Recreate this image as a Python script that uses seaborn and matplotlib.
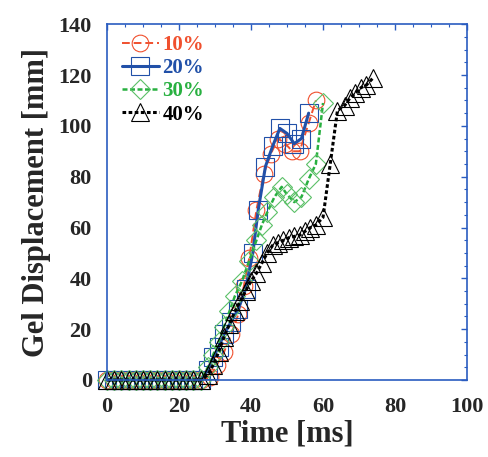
import numpy as np
import pandas as pd
import matplotlib
matplotlib.use("Agg")
import matplotlib.pyplot as plt
import seaborn as sns
from matplotlib.ticker import MultipleLocator

# ---- data ----
zero_t = [0, 2, 4, 6, 8, 10, 12, 14, 16, 18, 20, 22, 24, 26]

t10 = zero_t + [28.5, 30.5, 32.5, 34.5, 36.5, 38, 39.5, 41.5, 43.5, 45.5, 47.5, 49.5, 51.5, 53.5, 56, 58]
y10 = [0]*14 + [1, 6, 11, 18, 26, 37, 48, 67, 81, 89, 95, 93, 90, 90, 101, 110]

t20 = zero_t + [28, 29.5, 31, 32.5, 34.5, 36.5, 38.5, 40.5, 42, 44, 46, 48, 50, 52, 54, 56]
y20 = [0]*14 + [4, 9, 13, 18, 23, 28, 36, 50, 67, 84, 92, 99, 97, 93, 95, 105]

t30 = zero_t + [28, 29.5, 31, 32.5, 34, 35.5, 37.5, 39.5, 41.5, 43, 44.5, 46.5, 48.5, 50, 52, 54, 56, 58, 60]
y30 = [0]*14 + [5, 10, 15, 21, 27, 33, 39, 47, 55, 61, 66, 72, 76, 73, 70, 72, 79, 85, 109]

t40 = zero_t + [28, 29.5, 31, 32.5, 34, 35.5, 37, 38.5, 40, 41.5, 43, 44.5, 46, 47.5, 49, 50.5,
                52, 53.5, 55, 56.5, 58, 60, 62, 64, 66, 67.5, 69, 70.5, 72, 74]
y40 = [0]*14 + [2, 6, 11, 17, 22, 27, 31, 35, 39, 42, 46, 50, 53, 54, 55, 56,
                56.5, 57, 58.5, 60, 61, 64, 85, 106, 108, 111, 113, 115, 116, 119]

labels = ["10%", "20%", "30%", "40%"]

# ---- style ----
sns.set_style("white")
plt.rcParams['font.family'] = ['Liberation Serif', 'DejaVu Serif']
plt.rcParams['font.weight'] = 'bold'

fig = plt.figure(figsize=(4.89, 4.57), dpi=100)
ax = fig.add_axes([0.219, 0.1685, 0.736, 0.7785])

series = [
    (t10, y10, labels[0], "#f0502e", "o", (0, (4, 2)), 1.4, 12, "#f0502e"),
    (t20, y20, labels[1], "#2150a8", "s", "-", 2.2, 13, "#2150a8"),
    (t30, y30, labels[2], "#28b040", "D", (0, (2, 1)), 1.8, 10, "#5cc068"),
    (t40, y40, labels[3], "#000000", "^", (0, (1.2, 0.8)), 2.2, 13, "#000000"),
]

for t, y, lab, col, mk, ls, lw, ms, mec in series:
    df = pd.DataFrame({"t": t, "y": y})
    sns.lineplot(data=df, x="t", y="y", ax=ax, estimator=None, sort=False,
                 color=col, linestyle=ls, linewidth=lw, marker=mk, markersize=ms,
                 markerfacecolor="none", markeredgecolor=mec, markeredgewidth=0.8,
                 label=lab, clip_on=False)

ax.set_xlim(0, 100)
ax.set_ylim(0, 140)
ax.xaxis.set_major_locator(MultipleLocator(20))
ax.xaxis.set_minor_locator(MultipleLocator(5))
ax.yaxis.set_major_locator(MultipleLocator(20))
ax.yaxis.set_minor_locator(MultipleLocator(5))

spc = "#2a5cc0"
for s in ax.spines.values():
    s.set_color(spc)
    s.set_linewidth(1.2)
ax.tick_params(which="both", direction="in", top=True, right=True, color=spc)
ax.tick_params(which="major", length=4.3, width=1.0, labelsize=16)
ax.tick_params(which="minor", length=2.4, width=0.8)
ax.tick_params(axis="x", which="major", pad=12)
ax.tick_params(axis="y", which="major", pad=11)
for lbl in ax.get_xticklabels() + ax.get_yticklabels():
    lbl.set_fontweight("bold")

ax.set_xlabel("Time [ms]", fontsize=22, fontweight="bold", labelpad=2)
ax.set_ylabel("Gel Displacement [mm]", fontsize=22, fontweight="bold", labelpad=5)

leg = ax.legend(loc="upper left", frameon=False, handlelength=1.8, handletextpad=0.15,
                labelspacing=0.15, borderaxespad=0.3, bbox_to_anchor=(0.0, 1.01),
                prop={"weight": "bold", "size": 15, "family": "Liberation Serif"},
                labelcolor="linecolor")

fig.savefig("out.png", dpi=100)
